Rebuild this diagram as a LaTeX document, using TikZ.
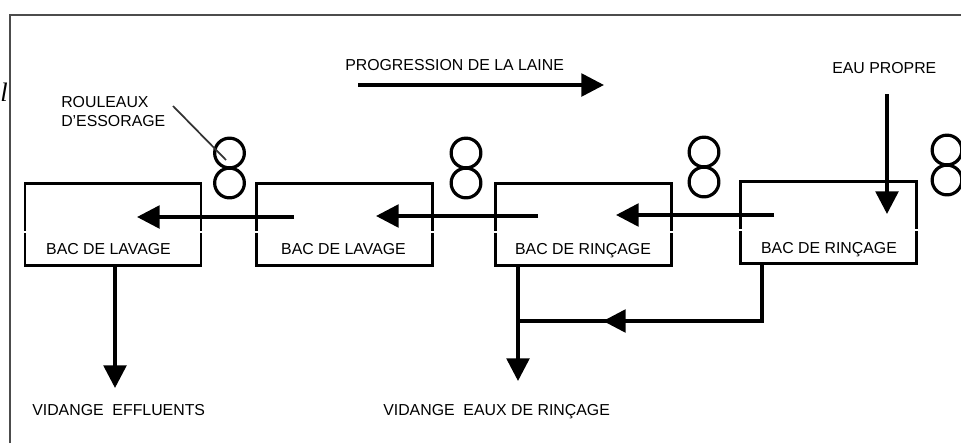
\documentclass[tikz,border=0pt]{standalone}
\usepackage{fontspec}
\setmainfont{Liberation Sans}
\newfontfamily\serifit[Ligatures=TeX]{Liberation Serif}
\usetikzlibrary{arrows.meta,positioning,calc}

\begin{document}
\begin{tikzpicture}[x=0.75pt,y=-0.75pt,>={Triangle[length=17pt,width=17pt]},
      bac/.style={draw,line width=2.1pt,minimum width=132pt,minimum height=61pt,inner sep=0pt},
      rol/.style={draw,circle,line width=2.4pt,minimum size=22.3pt,inner sep=0pt},
      lbl/.style={inner sep=0pt,font=\fontsize{11.9}{14.3}\selectfont,align=left},
      flow/.style={line width=2.7pt}]
    \useasboundingbox (0,0) rectangle (961,443);
    % cadre
    \coordinate (fa) at (10,443);
    \coordinate (fb) at (10,15);
    \coordinate (fc) at (961,15);
    \draw[line width=1.7pt,black!70] (fa) -- (fb) -- (fc);
    \node[inner sep=0pt,anchor=west,font=\serifit\itshape\fontsize{20}{20}\selectfont] (frag) at (0,92) {l};
    % bacs
    \node[bac] (lav1) at (113,224.5) {};
    \node[bac] (lav2) at (344.5,224.5) {};
    \node[bac] (rin1) at (583.5,224.5) {};
    \node[bac] (rin2) at (828.5,222.5) {};
    \foreach \b in {lav1,lav2,rin1,rin2} {
      \draw[white,line width=1pt] ($(\b.west)+(-5,7.5)$) -- ($(\b.west)+(5,7.5)$);
      \draw[white,line width=1pt] ($(\b.east)+(-5,7.5)$) -- ($(\b.east)+(5,7.5)$);
    }
    \node[lbl] (tlav1) at (108.5,249) {BAC DE LAVAGE};
    \node[lbl] (tlav2) at (343.5,249) {BAC DE LAVAGE};
    \node[lbl] (trin1) at (583,251) {BAC DE RINÇAGE};
    \node[lbl] (trin2) at (829,250) {BAC DE RINÇAGE};
    % rouleaux
    \foreach \n/\x/\y in {a/229.5/183,b/466/183,c/704/182,d/947/180} {
      \node[rol] (bas\n) at (\x,\y) {};
      \node[rol] (haut\n) at (\x,\y-30) {};
    }
    % textes
    \node[lbl,anchor=west] (prog) at (345,65) {PROGRESSION DE LA LAINE};
    \node[lbl,anchor=west] (eau) at (832,68) {EAU PROPRE};
    \node[lbl,anchor=west] (rou) at (61,112) {ROULEAUX\\D'ESSORAGE};
    \node[lbl,anchor=west] (vid1) at (32,410) {VIDANGE\ \ EFFLUENTS};
    \node[lbl,anchor=west] (vid2) at (383,412) {VIDANGE\ \ EAUX DE RINÇAGE};
    % fleches
    \coordinate (pa) at (358,85);
    \coordinate (pb) at (604,85);
    \draw[flow,->] (pa) -- (pb);
    \coordinate (e1) at (887,94);
    \coordinate (e2) at (887,214);
    \draw[flow,->] (e1) -- (e2);
    \coordinate (a1) at (294,217);
    \coordinate (a2) at (137,217);
    \draw[flow,->] (a1) -- (a2);
    \coordinate (b1) at (538,216);
    \coordinate (b2) at (376,216);
    \draw[flow,->] (b1) -- (b2);
    \coordinate (c1) at (774,215);
    \coordinate (c2) at (616,215);
    \draw[flow,->] (c1) -- (c2);
    \draw[flow,->] (lav1.south -| 115,0) -- (115,388);
    \coordinate (jn) at (518,321);
    \coordinate (el) at (762,321);
    \coordinate (mi) at (603,321);
    \draw[flow,->] (rin1.south -| jn) -- (518,381);
    \draw[flow] (rin2.south -| el) -- (el) -- (jn);
    \draw[flow,->] (el) -- (mi);
    % renvoi
    \coordinate (ra) at (173,106);
    \coordinate (rb) at (226,160);
    \draw[line width=1.3pt,black!80] (ra) -- (rb);
  \end{tikzpicture}
\end{document}
